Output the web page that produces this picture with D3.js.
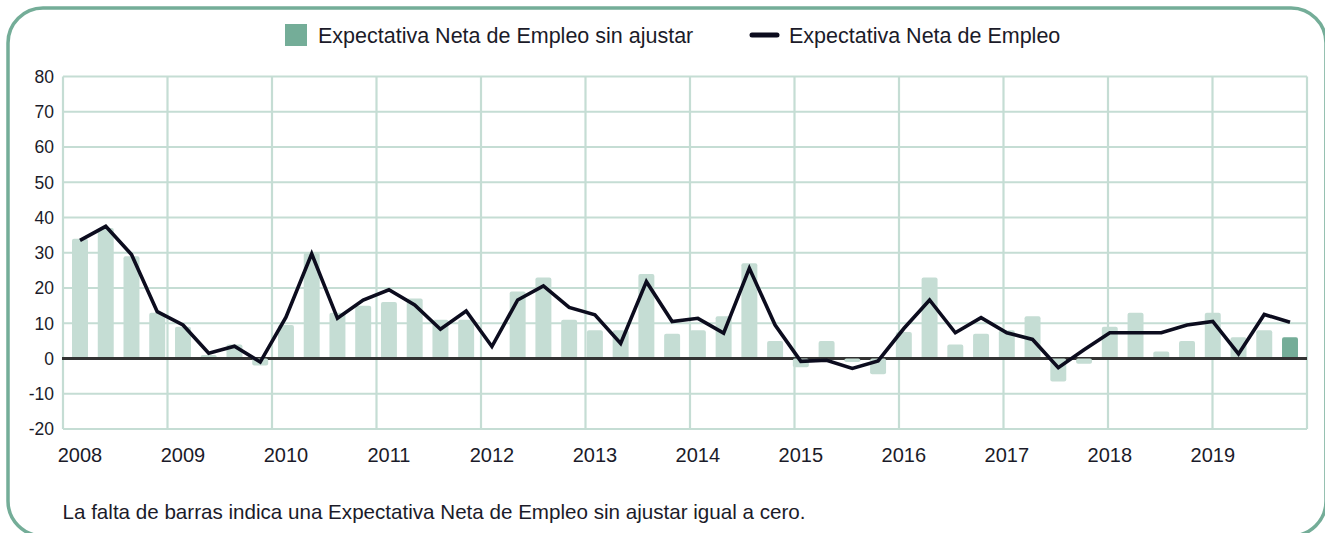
<!DOCTYPE html>
<html lang="es">
<head>
<meta charset="UTF-8">
<title>Expectativa Neta de Empleo</title>
<script src="https://cdn.jsdelivr.net/npm/d3@7"></script>
<style>
  body { margin: 0; background: #fff; }
  text { font-family: "Liberation Sans", Arial, Helvetica, sans-serif; fill: #1b1b29; }
  .grid line { stroke: #c5ddd4; stroke-width: 2.2; }
  .zero { stroke: #333333; stroke-width: 3; }
  .bar { fill: #c5ddd4; }
  .bar.last { fill: #74ad98; }
  .line { fill: none; stroke: #0c0c1e; stroke-width: 3.6; stroke-linejoin: miter; }
</style>
</head>
<body>
<script>
  // years shown on the x axis, one band per quarter
  var years = [2008, 2009, 2010, 2011, 2012, 2013, 2014, 2015, 2016, 2017, 2018, 2019];
  var yTicks = [-20, -10, 0, 10, 20, 30, 40, 50, 60, 70, 80];

  // Expectativa Neta de Empleo sin ajustar (bars), quarter by quarter
  var sinAjustar = [
    34, 37, 29, 13,
    9, 1, 4, -2,
    9.5, 30, 13, 15,
    16, 17, 11, 11,
    0, 19, 23, 11,
    8, 8, 24, 7,
    8, 12, 27, 5,
    -2.5, 5, -1, -4.5,
    7.5, 23, 4, 7,
    8, 12, -6.5, -1.5,
    9, 13, 2, 5,
    13, 6, 8, 6
  ];

  // Expectativa Neta de Empleo (line)
  var neta = [
    33.5, 37.5, 29.5, 13.3,
    9.5, 1.5, 3.5, -1,
    11.7, 29.7, 11.4, 16.6,
    19.5, 15.2, 8.3, 13.5,
    3.4, 16.6, 20.6, 14.5,
    12.4, 4.3, 21.8, 10.5,
    11.4, 7.2, 25.6, 9.5,
    -0.8, -0.5, -2.8, -0.7,
    8.5, 16.6, 7.3, 11.6,
    7.3, 5.4, -2.6, 2.5,
    7.3, 7.3, 7.3, 9.5,
    10.5, 1.3, 12.5, 10.3
  ];

  var legendLabels = ["Expectativa Neta de Empleo sin ajustar", "Expectativa Neta de Empleo"];
  var note = "La falta de barras indica una Expectativa Neta de Empleo sin ajustar igual a cero.";

  var W = 1325, H = 533;
  var plot = {left: 63, right: 1307, top: 76.5, bottom: 429};

  var quarters = [];
  years.forEach(function(yr) {
    [1, 2, 3, 4].forEach(function(q) { quarters.push(yr + "-T" + q); });
  });

  var svg = d3.select("body").append("svg")
      .attr("width", W)
      .attr("height", H);

  // outer rounded frame
  svg.append("rect")
      .attr("x", 8).attr("y", 8)
      .attr("width", 1318).attr("height", 528)
      .attr("rx", 35)
      .attr("fill", "none")
      .attr("stroke", "#74ad98")
      .attr("stroke-width", 3.5);

  var y = d3.scaleLinear().domain([-20, 80]).range([plot.bottom, plot.top]);
  var xYear = d3.scaleLinear().domain([2008, 2019]).range([plot.left, 1212.5]);
  var xq = d3.scalePoint().domain(quarters).range([80, 1290]);
  var barW = xq.step() * 0.62;

  // grid
  var grid = svg.append("g").attr("class", "grid");
  grid.selectAll(".h")
    .data(yTicks.filter(function(d) { return d !== 0; }))
    .enter().append("line")
      .attr("x1", plot.left).attr("x2", plot.right)
      .attr("y1", function(d) { return y(d); })
      .attr("y2", function(d) { return y(d); });
  grid.selectAll(".v")
    .data(years)
    .enter().append("line")
      .attr("x1", function(d) { return xYear(d); })
      .attr("x2", function(d) { return xYear(d); })
      .attr("y1", plot.top).attr("y2", plot.bottom);
  grid.append("line")
      .attr("x1", plot.right).attr("x2", plot.right)
      .attr("y1", plot.top).attr("y2", plot.bottom);

  // y labels
  svg.append("g").selectAll("text")
    .data(yTicks)
    .enter().append("text")
      .attr("x", 54)
      .attr("y", function(d) { return y(d); })
      .attr("dy", "0.36em")
      .attr("text-anchor", "end")
      .style("font-size", "17.5px")
      .text(function(d) { return d; });

  // x labels, centred on first quarter of each year
  svg.append("g").selectAll("text")
    .data(years)
    .enter().append("text")
      .attr("x", function(d) { return xq(d + "-T1"); })
      .attr("y", 461.5)
      .attr("text-anchor", "middle")
      .style("font-size", "20px")
      .text(function(d) { return d; });

  var bars = quarters.map(function(q, i) { return {q: q, v: sinAjustar[i], last: i === quarters.length - 1}; });

  function drawBars(data) {
    svg.append("g").selectAll("rect")
      .data(data)
      .enter().append("rect")
        .attr("class", function(d) { return d.last ? "bar last" : "bar"; })
        .attr("x", function(d) { return xq(d.q) - barW / 2; })
        .attr("width", barW)
        .attr("y", function(d) { return y(Math.max(0, d.v)); })
        .attr("height", function(d) { return Math.abs(y(d.v) - y(0)); })
        .attr("rx", 2);
  }

  drawBars(bars.filter(function(d) { return d.v > 0; }));

  svg.append("line")
      .attr("class", "zero")
      .attr("x1", plot.left - 1).attr("x2", plot.right)
      .attr("y1", y(0)).attr("y2", y(0));

  drawBars(bars.filter(function(d) { return d.v < 0; }));

  var line = d3.line()
      .x(function(d, i) { return xq(quarters[i]); })
      .y(function(d) { return y(d); });

  svg.append("path")
      .datum(neta)
      .attr("class", "line")
      .attr("d", line);

  // legend
  var lg = svg.append("g");
  lg.append("rect")
      .attr("x", 285).attr("y", 24)
      .attr("width", 22).attr("height", 22)
      .attr("fill", "#74ad98");
  lg.append("text")
      .attr("x", 318).attr("y", 42.5)
      .style("font-size", "21.5px")
      .text(legendLabels[0]);
  lg.append("line")
      .attr("x1", 752).attr("x2", 777)
      .attr("y1", 35).attr("y2", 35)
      .attr("stroke", "#0c0c1e")
      .attr("stroke-width", 5)
      .attr("stroke-linecap", "round");
  lg.append("text")
      .attr("x", 789).attr("y", 42.5)
      .style("font-size", "21.5px")
      .text(legendLabels[1]);

  // footnote
  svg.append("text")
      .attr("x", 62.5).attr("y", 518.5)
      .style("font-size", "20.6px")
      .text(note);
</script>
</body>
</html>
